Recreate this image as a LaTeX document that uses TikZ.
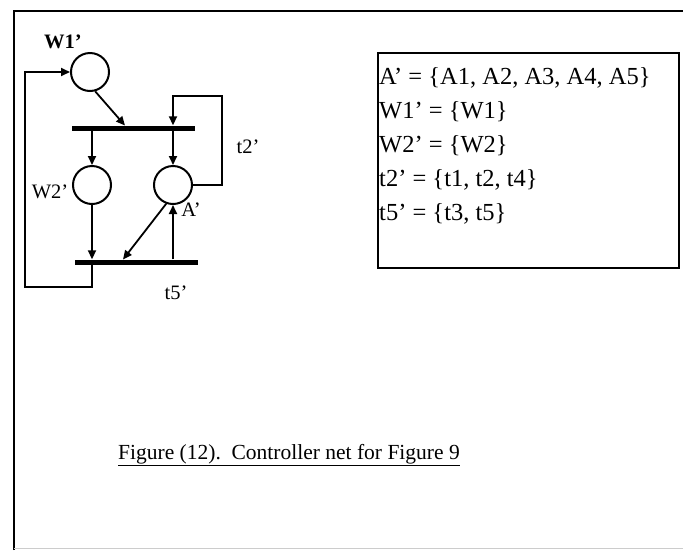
\documentclass[tikz,border=0pt]{standalone}
\usepackage{fontspec}
\setmainfont{Liberation Serif}
\usetikzlibrary{arrows.meta}
\tikzset{
  place/.style={draw,circle,line width=2pt,minimum size=38pt,inner sep=0pt},
  bar/.style={fill=black,minimum height=5pt,minimum width=123pt,inner sep=0pt},
  arc/.style={line width=1.8pt,-{Triangle[length=9pt,width=8pt]}},
}
\begin{document}
\begin{tikzpicture}[x=1pt,y=-1pt,font=\fontsize{20.5}{24}\selectfont]
\useasboundingbox(0,0)rectangle(683,550);
\draw[line width=2pt](14,550)--(14,11)--(683,11);
\draw[gray!40,line width=1pt](14,548)--(683,548);
% places and transitions
\node[place](w1)at(90,72){};\node[place](w2)at(92,185){};\node[place](a)at(173,185){};
\node[bar](t2)at(133.5,128){};\node[bar](t5)at(136.5,262){};
\coordinate(t2in)at(125,125.5);\coordinate(t5in)at(123,259.5);
\node[font=\fontsize{20.5}{24}\selectfont\bfseries]at(63,42){W1'};
\node at(50,192){W2'};\node at(191,210){A'};
\node at(248,147){t2'};\node at(176,293){t5'};
% arcs
\draw[arc](w1.-75)--(t2in);
\draw[arc](t2.south -| w2)--(w2);\draw[arc](t2.south -| a)--(a);
\draw[arc](a.east)-|(222,96)-|(t2.north -| a);
\draw[arc](w2)--(w2 |- t5.north);
\draw[arc](a.250)--(t5in);
\draw[arc](t5.north -| a)--(a);
\draw[arc](t5.south -| w2)|-(25,287)|-(w1.west);
% sets
\node[draw,line width=2pt,minimum width=301pt,minimum height=215pt,anchor=north west](defs)at(377,52){};
\foreach \s[count=\i] in {{A' = \{A1, A2, A3, A4, A5\}},{W1' = \{W1\}},{W2' = \{W2\}},{t2' = \{t1, t2, t4\}},{t5' = \{t3, t5\}}}
  \node[anchor=west,inner sep=1pt,font=\fontsize{24.5}{28}\selectfont](d\i)at(378,44+34*\i){\s};
\node[anchor=west,inner sep=0pt,font=\fontsize{21.5}{26}\selectfont](cap)at(118,455){\underline{Figure (12).\ \ Controller net for Figure 9}};
\end{tikzpicture}
\end{document}
